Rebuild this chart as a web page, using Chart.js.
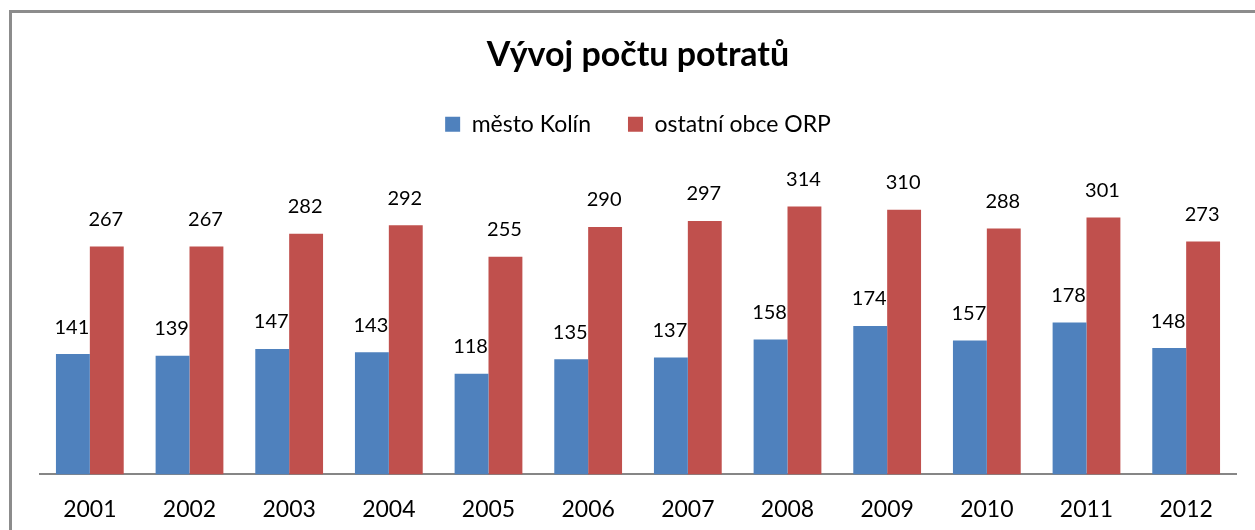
<!DOCTYPE html>
<html>
<head>
<meta charset="utf-8">
<script src="https://cdn.jsdelivr.net/npm/chart.js@4"></script>
<style>
    html, body { margin: 0; padding: 0; background: #fff; }
    .wrap { position: relative; width: 1255px; height: 530px; overflow: hidden; }
    .frame {
        position: absolute; left: 9px; top: 10px; width: 1400px; height: 700px;
        border-top: 3px solid #8c8c8c; border-left: 3px solid #8c8c8c;
    }
    canvas { position: absolute; left: 0; top: 0; }
</style>
</head>
<body>
<div class="wrap">
    <div class="frame"></div>
    <canvas id="chart" width="1255" height="530"></canvas>
</div>
<script>
// Data
const years = ['2001', '2002', '2003', '2004', '2005', '2006', '2007', '2008', '2009', '2010', '2011', '2012'];
const kolin = [141, 139, 147, 143, 118, 135, 137, 158, 174, 157, 178, 148];
const ostatni = [267, 267, 282, 292, 255, 290, 297, 314, 310, 288, 301, 273];
const seriesNames = ['město Kolín', 'ostatní obce ORP'];
const chartTitle = 'Vývoj počtu potratů';

const FONT = 'Lato, "Open Sans", sans-serif';

// Value labels above each bar
const valueLabels = {
    id: 'valueLabels',
    afterDatasetsDraw(chart) {
        const ctx = chart.ctx;
        ctx.save();
        ctx.font = '20px ' + FONT;
        ctx.fillStyle = '#000';
        ctx.textAlign = 'center';
        ctx.textBaseline = 'bottom';
        chart.data.datasets.forEach((ds, i) => {
            const meta = chart.getDatasetMeta(i);
            meta.data.forEach((bar, j) => {
                ctx.fillText(String(ds.data[j]), bar.x - 1, bar.y - 17);
            });
        });
        ctx.restore();
    }
};

const chart = new Chart(document.getElementById('chart'), {
    type: 'bar',
    data: {
        labels: years,
        datasets: [
            { label: seriesNames[0], data: kolin, backgroundColor: '#4F81BD' },
            { label: seriesNames[1], data: ostatni, backgroundColor: '#C0504D' }
        ]
    },
    options: {
        responsive: false,
        animation: false,
        devicePixelRatio: 1,
        categoryPercentage: 0.68,
        barPercentage: 1,
        layout: { padding: { left: 40, right: 19, top: 0, bottom: -14 } },
        plugins: {
            title: {
                display: true,
                text: chartTitle,
                color: '#000',
                font: { family: FONT, size: 34, weight: 'bold' },
                padding: { top: 35, bottom: 0 }
            },
            legend: {
                display: true,
                labels: {
                    color: '#000',
                    font: { family: FONT, size: 23 },
                    boxWidth: 15,
                    boxHeight: 15,
                    padding: 37
                }
            },
            tooltip: { enabled: false }
        },
        scales: {
            x: {
                grid: { display: false, drawTicks: false },
                border: { display: true, color: '#868686', width: 2 },
                ticks: { color: '#000', font: { family: FONT, size: 23 }, padding: 21 }
            },
            y: {
                display: false,
                min: 0,
                max: 385
            }
        }
    },
    plugins: [valueLabels]
});
</script>
</body>
</html>
